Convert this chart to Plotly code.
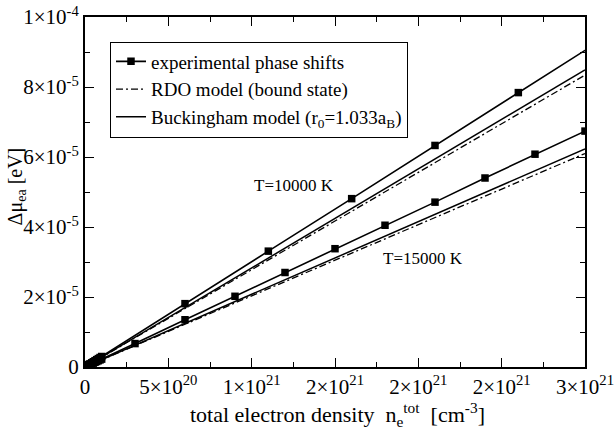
import plotly.graph_objects as go

# ---- data ----
# T = 10000 K, experimental phase shifts
n_exp_10k = [0, 2e18, 4e18, 6e18, 8e18, 1e19, 1.5e19, 2e19, 2.5e19, 3e19, 4e19, 5e19,
             6e19, 7e19, 8e19, 9e19, 1e20,
             6e20, 1.1e21, 1.6e21, 2.1e21, 2.6e21, 3.1e21]
mu_exp_10k = [0, 6e-8, 1.2e-7, 1.8e-7, 2.4e-7, 3e-7, 4.5e-7, 6e-7, 7.5e-7, 9e-7, 1.2e-6, 1.5e-6,
              1.8e-6, 2.1e-6, 2.4e-6, 2.7e-6, 3.0e-6,
              1.81e-5, 3.31e-5, 4.81e-5, 6.33e-5, 7.84e-5, 9.35e-5]
# T = 15000 K, experimental phase shifts
n_exp_15k = [0, 2e18, 4e18, 6e18, 8e18, 1e19, 1.5e19, 2e19, 2.5e19, 3e19, 4e19, 5e19,
             6e19, 7e19, 8e19, 9e19, 1e20,
             3e20, 6e20, 9e20, 1.2e21, 1.5e21, 1.8e21, 2.1e21, 2.4e21, 2.7e21, 3.0e21]
mu_exp_15k = [0, 4.5e-8, 9e-8, 1.35e-7, 1.8e-7, 2.2e-7, 3.4e-7, 4.5e-7, 5.6e-7, 6.7e-7, 9e-7, 1.1e-6,
              1.35e-6, 1.57e-6, 1.8e-6, 2.02e-6, 2.25e-6,
              6.69e-6, 1.35e-5, 2.02e-5, 2.70e-5, 3.38e-5, 4.05e-5, 4.71e-5, 5.40e-5, 6.08e-5, 6.74e-5]
# model curves
n_model = [0, 3e21]
mu_rdo_10k = [0, 8.34e-5]
mu_buck_10k = [0, 8.49e-5]
mu_rdo_15k = [0, 6.10e-5]
mu_buck_15k = [0, 6.23e-5]

x_tickvals = [0, 5e20, 1e21, 1.5e21, 2e21, 2.5e21, 3e21]
x_ticktext = ["0", "5×10<sup>20</sup>", "1×10<sup>21</sup>", "2×10<sup>21</sup>",
              "2×10<sup>21</sup>", "2×10<sup>21</sup>", "3×10<sup>21</sup>"]
y_tickvals = [0, 2e-5, 4e-5, 6e-5, 8e-5, 1e-4]
y_ticktext = ["0", "2×10<sup>-5</sup>", "4×10<sup>-5</sup>", "6×10<sup>-5</sup>",
              "8×10<sup>-5</sup>", "1×10<sup>-4</sup>"]

FONT = "Liberation Serif"

fig = go.Figure()

exp_style = dict(mode="lines+markers", line=dict(color="black", width=1.6),
                 marker=dict(symbol="square", size=7.5, color="black"), cliponaxis=True)
rdo_style = dict(mode="lines", line=dict(color="black", width=1.3, dash="7px,3px,2px,3px"))
buck_style = dict(mode="lines", line=dict(color="black", width=1.5))

fig.add_trace(go.Scatter(x=n_exp_10k, y=mu_exp_10k, name="experimental phase shifts",
                         showlegend=True, **exp_style))
fig.add_trace(go.Scatter(x=n_model, y=mu_rdo_10k, name="RDO model (bound state)",
                         showlegend=True, **rdo_style))
fig.add_trace(go.Scatter(x=n_model, y=mu_buck_10k,
                         name="Buckingham model (r<sub>0</sub>=1.033a<sub>B</sub>)",
                         showlegend=True, **buck_style))
fig.add_trace(go.Scatter(x=n_exp_15k, y=mu_exp_15k, showlegend=False, **exp_style))
fig.add_trace(go.Scatter(x=n_model, y=mu_rdo_15k, showlegend=False, **rdo_style))
fig.add_trace(go.Scatter(x=n_model, y=mu_buck_15k, showlegend=False, **buck_style))

axis_common = dict(showline=True, linecolor="black", linewidth=2, mirror="allticks",
                   ticks="inside", ticklen=9, tickwidth=1.2, tickcolor="black",
                   showgrid=False, zeroline=False, automargin=False,
                   tickfont=dict(family=FONT, size=21, color="black"),
                   minor=dict(ticks="inside", ticklen=5, tickwidth=1.2, tickcolor="black"))

fig.update_xaxes(range=[0, 3e21], tickmode="array", tickvals=x_tickvals, ticktext=x_ticktext,
                 minor_dtick=2.5e20, ticklabelstandoff=0, **axis_common)
fig.update_yaxes(range=[0, 1e-4], tickmode="array", tickvals=y_tickvals, ticktext=y_ticktext,
                 minor_dtick=1e-5, ticklabelstandoff=0, **axis_common)

# axis titles
fig.add_annotation(xref="paper", yref="paper", x=0.505, y=-0.086, xanchor="center", yanchor="top",
                   text="total electron density  n<sub>e</sub><sup>tot</sup>  [cm<sup>-3</sup>]",
                   showarrow=False, font=dict(family=FONT, size=22, color="black"))
fig.add_annotation(xref="paper", yref="paper", x=-0.138, y=0.516, xanchor="center", yanchor="middle",
                   text="Δμ<sub>ea</sub> [eV]", textangle=-90,
                   showarrow=False, font=dict(family=FONT, size=20, color="black"))

fig.add_annotation(x=1.254e21, y=5.19e-5, text="T=10000 K", showarrow=False,
                   font=dict(family=FONT, size=17, color="black"))
fig.add_annotation(x=2.03e21, y=3.1e-5, text="T=15000 K", showarrow=False,
                   font=dict(family=FONT, size=17, color="black"))

fig.update_layout(
    width=615, height=431,
    margin=dict(l=85, r=30, t=17, b=64),
    paper_bgcolor="white", plot_bgcolor="white",
    font=dict(family=FONT, color="black"),
    legend=dict(x=0.05, y=0.93, xanchor="left", yanchor="top",
                bgcolor="white", bordercolor="black", borderwidth=1,
                font=dict(family=FONT, size=19, color="black"),
                itemwidth=30, tracegroupgap=0),
)

fig.write_html("out.html")
